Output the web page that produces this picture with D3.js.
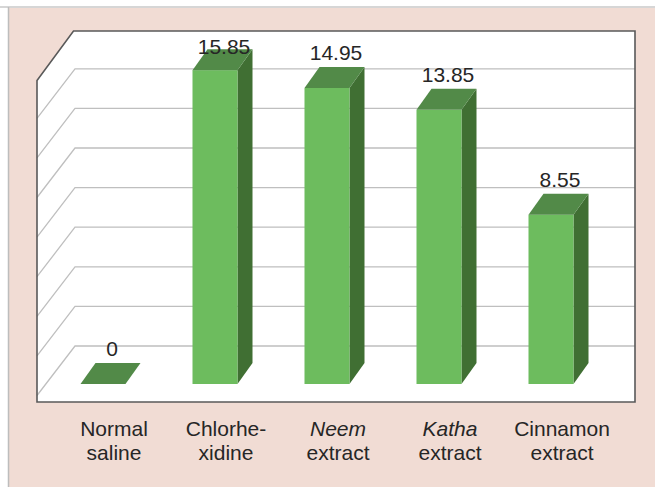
<!DOCTYPE html>
<html>
<head>
<meta charset="utf-8">
<script src="https://cdn.jsdelivr.net/npm/d3@7"></script>
<style>
  html, body { margin: 0; padding: 0; background: #ffffff; }
  svg { display: block; }
  text { font-family: "Liberation Sans", Arial, Helvetica, sans-serif; fill: #262626; }
</style>
</head>
<body>
<svg id="chart" width="655" height="487"></svg>
<script>
// ---- data ----
const categories = ["Normal saline", "Chlorhexidine", "Neem extract", "Katha extract", "Cinnamon extract"];
const values = [0, 15.85, 14.95, 13.85, 8.55];
const valueLabels = ["0", "15.85", "14.95", "13.85", "8.55"];
const labelLine1 = ["Normal", "Chlorhe-", "Neem", "Katha", "Cinnamon"];
const labelLine2 = ["saline", "xidine", "extract", "extract", "extract"];
const labelItalic = [false, false, true, true, false];
const gridTicks = [0, 2, 4, 6, 8, 10, 12, 14];

// ---- layout ----
const W = 655, H = 487;
const svg = d3.select("#chart");

// page frame
svg.append("rect").attr("x", 0).attr("y", 0).attr("width", W).attr("height", H).attr("fill", "#ffffff");
svg.append("rect").attr("x", 9).attr("y", 8).attr("width", W - 9).attr("height", H - 8).attr("fill", "#f1dcd4");
svg.append("line").attr("x1", 0).attr("x2", W).attr("y1", 7).attr("y2", 7).attr("stroke", "#c8c8c8").attr("stroke-width", 1.5);
svg.append("line").attr("x1", 8.5).attr("x2", 8.5).attr("y1", 7).attr("y2", H).attr("stroke", "#bdbdbd").attr("stroke-width", 1.5);

// panel geometry
const wallX = 73.5, frontX = 37, rightX = 635, topY = 31, bottomY = 402;
const wallDy = 49.5;   // vertical shift of the left wall diagonal
const barDx = 15, barDy = -21; // bar depth

// scales
const x = d3.scaleBand().domain(categories).range([47, 607]);
const barW = 45;
const barLeft = c => x(c) + (x.bandwidth() - barW) / 2;
const yFront = d3.scaleLinear().domain([0, 16]).range([384, 384 - 16 * 19.8]);
const yBack = d3.scaleLinear().domain([0, 16]).range([346, 346 - 16 * 19.8]);

// white panel
svg.append("path")
  .attr("d", `M${wallX},${topY}L${rightX},${topY}L${rightX},${bottomY}L${frontX},${bottomY}L${frontX},${topY + wallDy}Z`)
  .attr("fill", "#ffffff");

// gridlines (back wall + left wall diagonals)
svg.append("g").selectAll("path").data(gridTicks).join("path")
  .attr("d", t => {
    const yy = yBack(t);
    return `M${frontX},${yy + wallDy}L${wallX + 1.5},${yy}L${rightX},${yy}`;
  })
  .attr("fill", "none").attr("stroke", "#bfbfbf").attr("stroke-width", 1.3);

// panel border
svg.append("path")
  .attr("d", `M${wallX},${topY}L${rightX},${topY}L${rightX},${bottomY}L${frontX},${bottomY}L${frontX},${topY + wallDy}Z`)
  .attr("fill", "none").attr("stroke", "#595959").attr("stroke-width", 1.6);

// bars
const bars = svg.append("g").selectAll("g").data(categories).join("g");
bars.each(function(c, i) {
  const g = d3.select(this);
  const x0 = barLeft(c), x1 = x0 + barW;
  const y0 = yFront(0), y1 = yFront(values[i]);
  // side face
  if (values[i] > 0) {
    g.append("path")
      .attr("d", `M${x1},${y1}L${x1 + barDx},${y1 + barDy}L${x1 + barDx},${y0 + barDy}L${x1},${y0}Z`)
      .attr("fill", "#406f33");
    // front face
    g.append("rect").attr("x", x0).attr("y", y1).attr("width", barW).attr("height", y0 - y1)
      .attr("fill", "#6dbc5e");
  }
  // top face
  g.append("path")
    .attr("d", `M${x0},${y1}L${x1},${y1}L${x1 + barDx},${y1 + barDy}L${x0 + barDx},${y1 + barDy}Z`)
    .attr("fill", "#528a48");
});

// value labels
svg.append("g").selectAll("text").data(categories).join("text")
  .attr("x", c => barLeft(c) + barW / 2 + 9)
  .attr("y", (c, i) => Math.max(yFront(values[i]) + barDy - 7, 54))
  .attr("text-anchor", "middle")
  .attr("font-size", 21)
  .text((c, i) => valueLabels[i]);

// category labels
const labels = svg.append("g").selectAll("text").data(categories).join("text")
  .attr("text-anchor", "middle")
  .attr("font-size", 21);
labels.append("tspan")
  .attr("x", c => barLeft(c) + barW / 2 + 11)
  .attr("y", 436)
  .attr("font-style", (c, i) => labelItalic[i] ? "italic" : "normal")
  .text((c, i) => labelLine1[i]);
labels.append("tspan")
  .attr("x", c => barLeft(c) + barW / 2 + 11)
  .attr("y", 460)
  .text((c, i) => labelLine2[i]);
</script>
</body>
</html>
